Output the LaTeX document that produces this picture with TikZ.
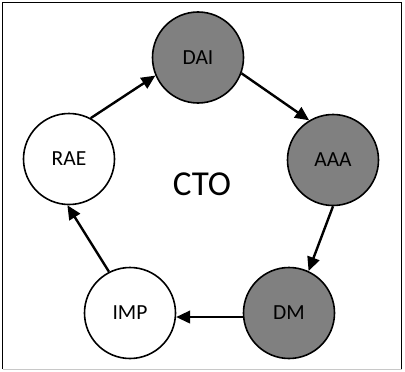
\documentclass[tikz,border=0pt]{standalone}
\usepackage{fontspec}
\setmainfont{Carlito}
\usetikzlibrary{arrows.meta}
\begin{document}
\begin{tikzpicture}[x=1pt,y=-1pt,
  stage/.style={circle,draw=black,line width=1.6pt,minimum size=91pt,inner sep=0pt,
    font=\fontsize{21.5}{24}\selectfont},
  done/.style={stage,fill=gray50},
  todo/.style={stage,fill=white},
  flow/.style={line width=2.4pt,-{Triangle[length=14pt,width=12.5pt]}}]
  \definecolor{gray50}{HTML}{808080}
  \definecolor{framegray}{HTML}{C8C8C8}
  \useasboundingbox (0,0) rectangle (405,372);
  % frame
  \draw[line width=1.3pt] (2.5,369) -- (2.5,2.5) -- (401.5,2.5) -- (401.5,369);
  \draw[framegray,line width=1pt] (2.5,369.5) -- (401.5,369.5);
  % cycle stages
  \node[done] (dai) at (198,57.5) {DAI};
  \node[done] (aaa) at (333,160) {AAA};
  \node[done] (dm)  at (289,313) {DM};
  \node[todo] (imp) at (130,313) {IMP};
  \node[todo] (rae) at (69,159) {RAE};
  \node[font=\fontsize{35}{38}\selectfont] (cto) at (202,184) {CTO};
  % transitions
  \draw[flow] (rae.62.7) -- (dai.203.8);
  \draw[flow] (dai.340.4) -- (aaa.121);
  \draw[flow] (aaa.270) -- (dm.65.8);
  \draw[flow] (dm.185.6) -- (imp.-5.6);
  \draw[flow] (imp.117.7) -- (rae.268);
\end{tikzpicture}
\end{document}
